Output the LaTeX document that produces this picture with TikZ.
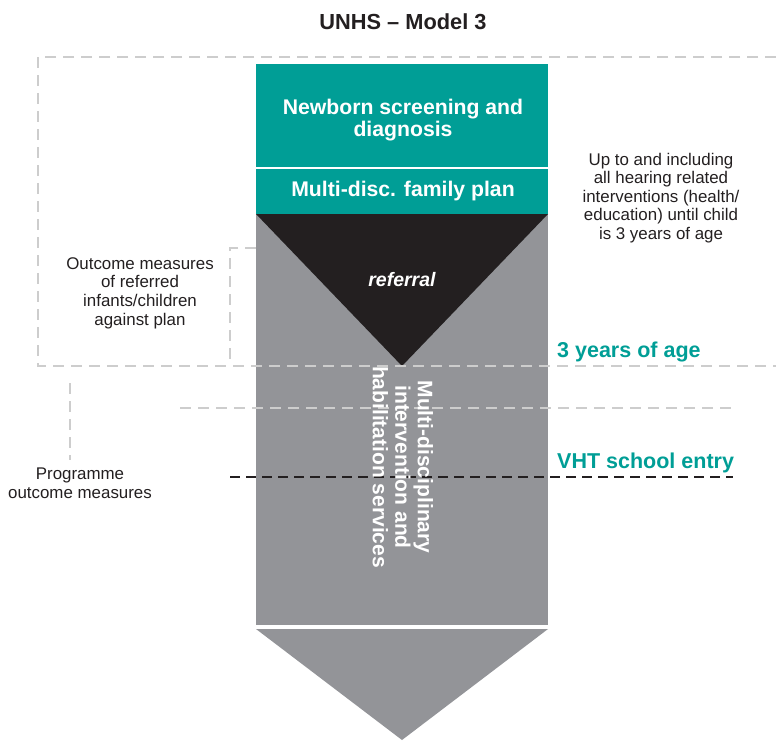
\documentclass[tikz,border=0pt]{standalone}
\usepackage{fontspec}
\setmainfont{Liberation Sans}
\definecolor{tealc}{RGB}{0,158,150}
\definecolor{greyc}{RGB}{147,148,152}
\definecolor{darkc}{RGB}{35,31,32}
\definecolor{dashc}{RGB}{205,205,205}
\begin{document}
\begin{tikzpicture}[x=1pt,y=-1pt,
  lightdash/.style={draw=dashc,line width=1.6pt,dash pattern=on 11pt off 7pt},
  darkdash/.style={draw=darkc,line width=1.4pt,dash pattern=on 10pt off 6pt},
  boxtext/.style={text=white,font=\fontsize{21.2}{21.5}\selectfont\bfseries,align=center,inner sep=0pt},
  smalltext/.style={text=darkc,font=\fontsize{16.9}{18.6}\selectfont,align=center,inner sep=0pt},
  agetext/.style={text=tealc,font=\fontsize{21.5}{22}\selectfont\bfseries,inner sep=0pt,anchor=west}]
\useasboundingbox (0,0) rectangle (776,740);
% column
\fill[greyc] (256,214) rectangle (548,625);
\fill[tealc] (256,64) rectangle (548,167);
\fill[tealc] (256,169) rectangle (548,214);
\fill[darkc] (256,214) -- (548,214) -- (402,366) -- cycle;
\fill[greyc] (256,629) -- (548,629) -- (402,740) -- cycle;
% dashed frames
\draw[lightdash] (776,57) -- (38,57) -- (38,366) -- (776,366);
\draw[lightdash] (256,248) -- (230,248) -- (230,366);
\draw[lightdash] (70,383) -- (70,460);
\draw[lightdash] (180,408) -- (733,408);
\draw[darkdash] (230,477) -- (733,477);
% texts
\node[text=darkc,font=\fontsize{21.8}{22}\selectfont\bfseries,inner sep=0pt] (title) at (403,22) {UNHS -- Model 3};
\node[boxtext] (screen) at (403,120) {Newborn screening and\\diagnosis};
\node[boxtext] (plan) at (403,191) {Multi-disc. family plan};
\node[text=white,font=\fontsize{19.5}{21}\selectfont\bfseries\itshape,inner sep=0pt] (referral) at (402,280) {referral};
\node[smalltext] (upto) at (661,198) {Up to and including\\all hearing related\\interventions (health/\\education) until child\\is 3 years of age};
\node[smalltext] (outcome) at (140,293) {Outcome measures\\of referred\\infants/children\\against plan};
\node[smalltext] (programme) at (80,483) {Programme\\outcome measures};
\node[agetext] (three) at (557,352) {3 years of age};
\node[agetext] (vht) at (557,463) {VHT school entry};
\node[text=white,font=\fontsize{21}{22.5}\selectfont\bfseries,align=center,inner sep=0pt,rotate=-90] (services) at (403,467) {Multi-disciplinary\\intervention and\\habilitation services};
\end{tikzpicture}
\end{document}
